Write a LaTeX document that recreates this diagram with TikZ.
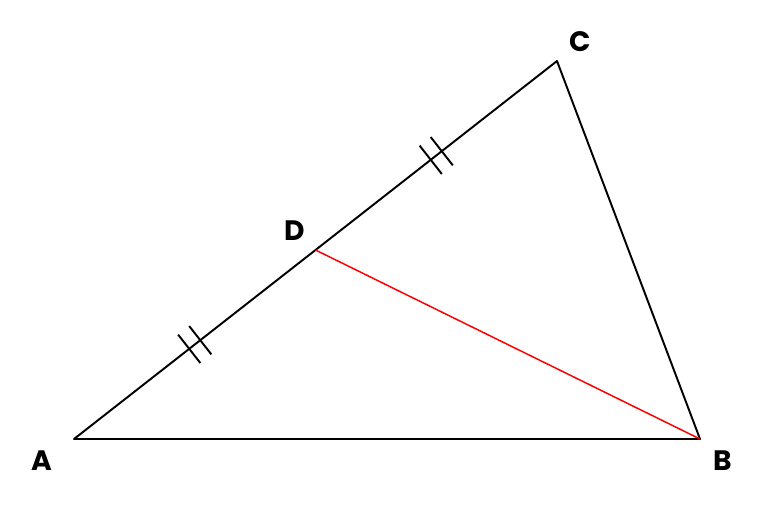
\documentclass[tikz,border=0pt]{standalone}
\usepackage{fontspec}
\setmainfont{Poppins}
\usetikzlibrary{calc}
\begin{document}
\begin{tikzpicture}[x=0.02cm, y=-0.02cm]
      \useasboundingbox (0,0) rectangle (777,529);
      % Triangle
      \coordinate (A) at (74,439);
      \coordinate (B) at (700,439);
      \coordinate (C) at (557,61);
      \coordinate (D) at ($(A)!0.5!(C)$);
      
      \node[font=\fontsize{16}{18}\selectfont\bfseries] (lA) at (42,461) {A};
      \node[font=\fontsize{16}{18}\selectfont\bfseries] (lB) at (723,461) {B};
      \node[font=\fontsize{16}{18}\selectfont\bfseries] (lC) at (580,42) {C};
      \node[font=\fontsize{16}{18}\selectfont\bfseries] (lD) at (295,231) {D};
      
      \draw[line width=1.1pt, line join=round] (A) -- (B) -- (C) -- cycle;
      \draw[red, line width=0.85pt] (D) -- (B);
      
      % Equal marks
      \foreach \p/\q in {A/D, D/C} {
        \coordinate (m) at ($(\p)!0.5!(\q)$);
        \foreach \s in {-1,1} {
          \coordinate (t) at ($(m)!\s*0.14cm!(\q)$);
          \draw[line width=1.1pt] ($(t)!0.36cm!90:(\q)$) -- ($(t)!0.36cm!-90:(\q)$);
        }
      }
    \end{tikzpicture}
\end{document}
